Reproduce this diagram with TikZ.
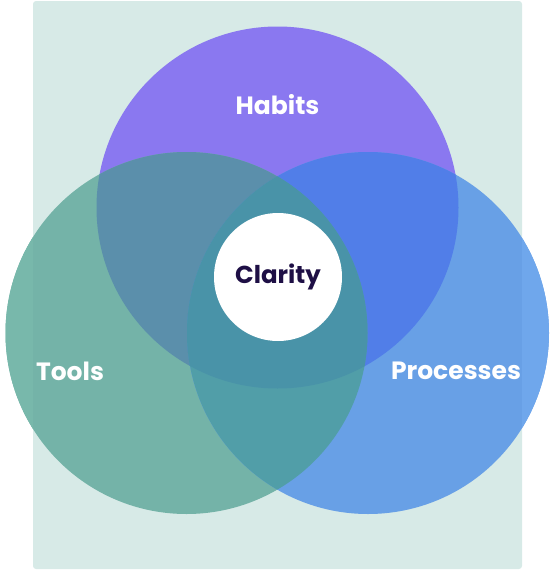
\documentclass[tikz,border=0pt]{standalone}
\usepackage{fontspec}
\setmainfont{Poppins}
\usetikzlibrary{positioning}
\definecolor{bgteal}{HTML}{D7EAE7}
\definecolor{habcol}{HTML}{8A78F0}
\definecolor{toolcol}{HTML}{74B3A8}
\definecolor{toolout}{HTML}{78B8AB}
\definecolor{proccol}{HTML}{68A0E6}
\definecolor{procout}{HTML}{6FA7EC}
\definecolor{htcol}{HTML}{5B8FAB}
\definecolor{hpcol}{HTML}{517EE8}
\definecolor{tpcol}{HTML}{519EA8}
\definecolor{allcol}{HTML}{4993A8}
\definecolor{inkdark}{HTML}{1E0F45}

\begin{document}
\begin{tikzpicture}[x=1pt, y=-1pt,
  lbl/.style={font=\bfseries\fontsize{25}{25}\selectfont, text=white},
  core/.style={circle, fill=white, minimum size=128pt, inner sep=0pt,
               font=\bfseries\fontsize{24.5}{24.5}\selectfont, text=inkdark},
]
\useasboundingbox (0,0) rectangle (555,570);
\fill[bgteal, rounded corners=3pt] (33,1) rectangle (522,569);

\coordinate (hc) at (277.5,207.5);
\coordinate (tc) at (186.5,333);
\coordinate (pc) at (368,333);
\def\habpath{(hc) circle [radius=181pt]}
\def\toolpath{(tc) circle [radius=181pt]}
\def\procpath{(pc) circle [radius=181pt]}

% single sets
\fill[habcol] \habpath;
\fill[toolcol] \toolpath;
\fill[proccol] \procpath;

% parts outside the panel are a touch lighter
\begin{scope}
  \clip (0,0) rectangle (33,570);
  \fill[toolout] \toolpath;
\end{scope}
\begin{scope}
  \clip (522,0) rectangle (555,570);
  \fill[procout] \procpath;
\end{scope}

% pairwise overlaps
\begin{scope}
  \clip \habpath;
  \fill[htcol] \toolpath;
  \fill[hpcol] \procpath;
\end{scope}
\begin{scope}
  \clip \toolpath;
  \fill[tpcol] \procpath;
\end{scope}
\begin{scope}
  \clip \habpath;
  \clip \toolpath;
  \fill[allcol] \procpath;
\end{scope}

% labels
\node[lbl] (habits) at (277.5,105) {Habits};
\node[lbl] (tools) at (70,371) {Tools};
\node[lbl] (procs) at (456,371) {Processes};
\node[core] (clarity) at (278,277) {Clarity};

\end{tikzpicture}
\end{document}
